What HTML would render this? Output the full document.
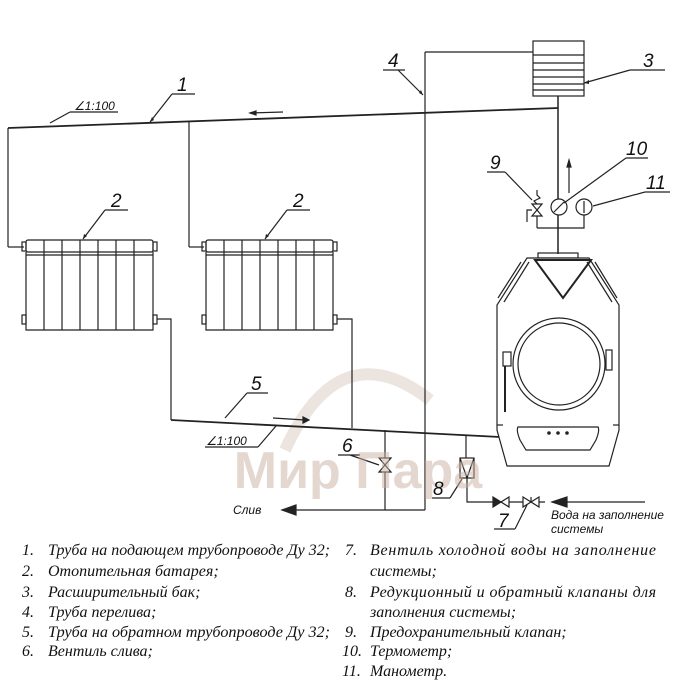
<!DOCTYPE html>
<html><head><meta charset="utf-8"><style>
html,body{margin:0;padding:0;background:#fff}
svg{display:block}
.lab{font-family:"Liberation Sans",sans-serif;font-style:italic;font-size:19px;fill:#111}
.sm{font-family:"Liberation Sans",sans-serif;font-style:italic;font-size:12px;fill:#111}
.leg{font-family:"Liberation Serif",serif;font-style:italic;font-size:16px;fill:#111}
</style></head><body>
<svg width="700" height="700" viewBox="0 0 700 700" xmlns="http://www.w3.org/2000/svg">
<g fill="none" stroke="#222" stroke-width="1.2">
<path d="M285 450 Q340 330 430 400" stroke="#d9cabf" stroke-width="12" opacity="0.5"/>
<line x1="8" y1="128" x2="558" y2="108" stroke-width="1.8"/>
<line x1="8" y1="128" x2="8" y2="247"/><line x1="8" y1="247" x2="24" y2="247"/>
<line x1="189" y1="122" x2="189" y2="247"/><line x1="189" y1="247" x2="204" y2="247"/>
<line x1="283" y1="112" x2="250" y2="113"/>
<path d="M250 113 l6 -2 v4z" fill="#222"/>
<line x1="425" y1="52" x2="425" y2="510"/>
<line x1="425" y1="52" x2="533" y2="52"/>
<rect x="533" y="41" width="51" height="55"/>
<line x1="533" y1="55" x2="584" y2="55"/><line x1="533" y1="63" x2="584" y2="63"/>
<line x1="533" y1="70" x2="584" y2="70"/><line x1="533" y1="77" x2="584" y2="77"/>
<line x1="533" y1="84" x2="584" y2="84"/><line x1="533" y1="90" x2="584" y2="90"/>
<line x1="558" y1="96" x2="558" y2="254" stroke-width="1.5"/>
<g id="rad">
<rect x="26" y="240" width="127" height="12" rx="2"/>
<rect x="22" y="242" width="4" height="9"/><rect x="153" y="242" width="4" height="9"/>
<rect x="22" y="315" width="4" height="9"/><rect x="153" y="315" width="4" height="9"/>
<path d="M26 252 V330 H153 V252"/>
<line x1="44" y1="240" x2="44" y2="330"/><line x1="62" y1="240" x2="62" y2="330"/>
<line x1="80" y1="240" x2="80" y2="330"/><line x1="98" y1="240" x2="98" y2="330"/>
<line x1="116" y1="240" x2="116" y2="330"/><line x1="134" y1="240" x2="134" y2="330"/>
<line x1="26" y1="255" x2="153" y2="255"/>
</g>
<use href="#rad" transform="translate(180,0)"/>
<path d="M157 319 H171 V420"/>
<path d="M337 319 H352 V428"/>
<line x1="171" y1="420" x2="500" y2="437" stroke-width="1.8"/>
<line x1="273" y1="418" x2="305" y2="420"/>
<path d="M309 420 l-6 -3 v6z" fill="#222"/>
<line x1="385" y1="430" x2="385" y2="510"/>
<line x1="425" y1="510" x2="295" y2="510"/>
<path d="M282 510 l14 -5 v10z" fill="#222"/>
<path d="M379 458 l12 14 h-12 l12 -14z" fill="#fff"/>
<line x1="466" y1="435" x2="466" y2="458"/>
<rect x="460" y="458" width="14" height="20" fill="#fff"/>
<path d="M460 458 l7 20 l7 -20"/>
<path d="M467 478 V502 H545"/>
<path d="M493 497 l8 5 l-8 5z" fill="#222"/><path d="M509 497 l-8 5 l8 5z" fill="#fff"/>
<path d="M523 497 l8 5 l-8 5z" fill="#fff"/><path d="M539 497 l-8 5 l8 5z" fill="#fff"/>
<line x1="531" y1="497" x2="531" y2="502"/>
<line x1="567" y1="502" x2="645" y2="502"/>
<path d="M552 502 l15 -5 v10z" fill="#222"/>
<path d="M537 228 H584 V215"/>
<line x1="537" y1="228" x2="537" y2="212"/>
<circle cx="559" cy="207" r="8" fill="#fff"/><line x1="554" y1="212" x2="564" y2="202"/>
<circle cx="584" cy="207" r="8" fill="#fff"/><line x1="584" y1="213" x2="584" y2="201"/>
<path d="M532 204 l10 12 h-10 l10 -12z" fill="#fff"/>
<path d="M537 204 l-3 -3 l6 -3 l-3 -3 V190"/>
<path d="M532 210 h-5 v12"/>
<line x1="569" y1="193" x2="569" y2="165"/><path d="M569 160 l-2 7 h4z" fill="#222"/>
<rect x="538" y="253" width="40" height="5"/>
<path d="M527 258 H589 L619 305 V430 L609 466 H507 L497 430 V305 Z" fill="#fff"/>
<path d="M535 260 L591 260 L563 298 Z" stroke-width="2"/>
<path d="M521 262 L498 298 M529 262 L504 302 M595 262 L617 298 M587 262 L612 302"/>
<circle cx="559" cy="364" r="46"/><circle cx="559" cy="364" r="41"/>
<rect x="503" y="352" width="8" height="14"/><line x1="505" y1="366" x2="505" y2="412" stroke-width="2"/>
<rect x="606" y="350" width="6" height="20"/>
<path d="M518 427 H598 Q600 430 596 440 L590 450 H526 L520 440 Q516 430 518 427Z"/>
<circle cx="549" cy="433" r="1.2" fill="#222"/><circle cx="558" cy="433" r="1.2" fill="#222"/><circle cx="567" cy="433" r="1.2" fill="#222"/>
<line x1="497" y1="425" x2="503" y2="425"/><line x1="613" y1="425" x2="619" y2="425"/>
<path d="M172 94 H195 M172 94 L150 122"/>
<path d="M70 112 H118 M70 112 L50 123"/>
<path d="M105 210 H128 M105 210 L83 239"/>
<path d="M287 210 H310 M287 210 L265 239"/>
<path d="M630 70 H665 M630 70 L584 83"/>
<path d="M383 70 H405 M398 70 L423 95"/>
<path d="M247 393 H268 M247 393 L225 418"/>
<path d="M205 447 H258 M258 447 L276 426"/>
<path d="M338 455 H360 M350 455 L379 465"/>
<path d="M432 498 H450 M450 498 L462 479"/>
<path d="M494 529 H515 M515 529 L527 505"/>
<path d="M487 172 H505 M505 172 L532 200"/>
<path d="M626 158 H648 M626 158 L564 203"/>
<path d="M645 192 H670 M645 192 L593 206"/>
</g>
<g fill="#222">
<path d="M150 122 l2 -5 l2 3z"/><path d="M83 239 l1 -5 l3 2z"/><path d="M265 239 l1 -5 l3 2z"/>
<path d="M423 95 l-4 -2 l2 -3z"/><path d="M584 83 l5 -3 l0 4z"/>
</g>
<text x="358" y="488" font-family="Liberation Sans,sans-serif" font-weight="bold" font-size="52" fill="#c9b0a0" opacity="0.5" text-anchor="middle">Мир Пара</text>
<text class="lab" x="177" y="91">1</text>
<text class="sm" x="74" y="110">∠1:100</text>
<text class="lab" x="111" y="207">2</text>
<text class="lab" x="293" y="207">2</text>
<text class="lab" x="643" y="67">3</text>
<text class="lab" x="388" y="67">4</text>
<text class="lab" x="251" y="390">5</text>
<text class="sm" x="206" y="445">∠1:100</text>
<text class="lab" x="342" y="452">6</text>
<text class="lab" x="433" y="495">8</text>
<text class="lab" x="498" y="527">7</text>
<text class="lab" x="490" y="169">9</text>
<text class="lab" x="626" y="155">10</text>
<text class="lab" x="646" y="189">11</text>
<text class="sm" x="233" y="514">Слив</text>
<text class="sm" x="551" y="519">Вода на заполнение</text>
<text class="sm" x="551" y="533">системы</text>
<g class="leg">
<text x="22" y="555">1.</text><text x="48" y="555" textLength="282" lengthAdjust="spacingAndGlyphs">Труба на подающем трубопроводе Ду 32;</text>
<text x="22" y="576">2.</text><text x="48" y="576">Отопительная батарея;</text>
<text x="22" y="597">3.</text><text x="48" y="597">Расширительный бак;</text>
<text x="22" y="617">4.</text><text x="48" y="617">Труба перелива;</text>
<text x="22" y="637">5.</text><text x="48" y="637" textLength="282" lengthAdjust="spacingAndGlyphs">Труба на обратном трубопроводе Ду 32;</text>
<text x="22" y="656">6.</text><text x="48" y="656">Вентиль слива;</text>
<text x="345" y="555">7.</text><text x="370" y="555" textLength="286" lengthAdjust="spacing">Вентиль холодной воды на заполнение</text>
<text x="370" y="576">системы;</text>
<text x="345" y="597">8.</text><text x="370" y="597" textLength="286" lengthAdjust="spacing">Редукционный и обратный клапаны для</text>
<text x="370" y="617">заполнения системы;</text>
<text x="345" y="637">9.</text><text x="370" y="637">Предохранительный клапан;</text>
<text x="342" y="656">10.</text><text x="370" y="656">Термометр;</text>
<text x="342" y="676">11.</text><text x="370" y="676">Манометр.</text>
</g>
</svg>
</body></html>
